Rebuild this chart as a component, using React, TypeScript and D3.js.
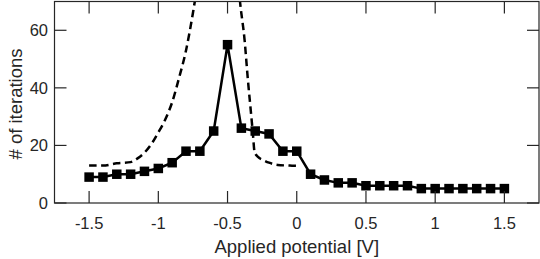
import React from 'react';
import * as d3 from 'd3';

// Applied potential (V) and iteration counts
const potentials = [
  -1.5, -1.4, -1.3, -1.2, -1.1, -1.0, -0.9, -0.8, -0.7, -0.6, -0.5, -0.4, -0.3, -0.2, -0.1, 0.0,
  0.1, 0.2, 0.3, 0.4, 0.5, 0.6, 0.7, 0.8, 0.9, 1.0, 1.1, 1.2, 1.3, 1.4, 1.5,
];
const iterations = [
  9, 9, 10, 10, 11, 12, 14, 18, 18, 25, 55, 26, 25, 24, 18, 18,
  10, 8, 7, 7, 6, 6, 6, 6, 5, 5, 5, 5, 5, 5, 5,
];

// dashed reference curve, two branches (it leaves the top of the axes)
const dashLeftX = [-1.5, -1.4, -1.3, -1.2, -1.15, -1.1, -1.05, -1.0, -0.95, -0.9, -0.85, -0.8, -0.75, -0.72];
const dashLeftY = [13, 13, 13.8, 14.2, 15.5, 17.5, 20.5, 24.5, 29, 35, 43.5, 53, 66, 75];
const dashRightX = [-0.42, -0.41, -0.377, -0.353, -0.33, -0.317, -0.305, -0.28, -0.245, -0.2, -0.137, -0.05, 0.0, 0.02];
const dashRightY = [75, 70, 56.7, 42.8, 31, 24.2, 17.8, 16, 15, 14, 13.2, 13, 12.9, 12.9];

const xTicks = [-1.5, -1, -0.5, 0, 0.5, 1, 1.5];
const yTicks = [0, 20, 40, 60];

export default function App() {
  const width = 540;
  const height = 259;
  const left = 54.5, right = 539, top = 1.5, bottom = 203;
  const axisColor = '#262626';
  const font = '"Liberation Sans", Arial, Helvetica, sans-serif';
  const tickLen = 12;

  const x = d3.scaleLinear().domain([-1.75, 1.75]).range([left, right]);
  const y = d3.scaleLinear().domain([0, 70]).range([bottom, top]);

  const pts = potentials.map((p, i) => [p, iterations[i]] as [number, number]);
  const line = d3.line<[number, number]>().x(d => x(d[0])).y(d => y(d[1]));
  const curve = d3.line<[number, number]>().x(d => x(d[0])).y(d => y(d[1])).curve(d3.curveMonotoneX);
  const leftBranch = dashLeftX.map((v, i) => [v, dashLeftY[i]] as [number, number]);
  const rightBranch = dashRightX.map((v, i) => [v, dashRightY[i]] as [number, number]);
  const sq = 9.5;

  return (
    <svg width={width} height={height} style={{ position: 'absolute', left: 0, top: 0, background: '#fff' }}>
      <defs>
        <clipPath id="plot">
          <rect x={left} y={top} width={right - left} height={bottom - top} />
        </clipPath>
      </defs>

      <g clipPath="url(#plot)">
        <path d={curve(leftBranch) || ''} fill="none" stroke="#000" strokeWidth={2.5} strokeDasharray="7.5,4.5" />
        <path d={curve(rightBranch) || ''} fill="none" stroke="#000" strokeWidth={2.5} strokeDasharray="7.5,4.5" />
      </g>

      <path d={line(pts) || ''} fill="none" stroke="#000" strokeWidth={2.5} />
      {pts.map((d, i) => (
        <rect key={i} x={x(d[0]) - sq / 2} y={y(d[1]) - sq / 2} width={sq} height={sq} fill="#000" />
      ))}

      {/* box */}
      <rect x={left} y={top} width={right - left} height={bottom - top} fill="none" stroke={axisColor} strokeWidth={1.2} />

      {/* x ticks, bottom and top */}
      {xTicks.map(t => (
        <g key={'x' + t}>
          <line x1={x(t)} x2={x(t)} y1={bottom} y2={bottom - tickLen} stroke={axisColor} strokeWidth={1.2} />
          <line x1={x(t)} x2={x(t)} y1={top} y2={top + tickLen} stroke={axisColor} strokeWidth={1.2} />
          <text x={x(t)} y={229} textAnchor="middle" fontFamily={font} fontSize={16.5} fill={axisColor}>
            {String(t)}
          </text>
        </g>
      ))}

      {/* y ticks, left and right */}
      {yTicks.map(t => (
        <g key={'y' + t}>
          <line x1={left} x2={left + tickLen} y1={y(t)} y2={y(t)} stroke={axisColor} strokeWidth={1.2} />
          <line x1={right} x2={right - tickLen} y1={y(t)} y2={y(t)} stroke={axisColor} strokeWidth={1.2} />
          <text x={48} y={y(t)} dy="0.36em" textAnchor="end" fontFamily={font} fontSize={16.5} fill={axisColor}>
            {t}
          </text>
        </g>
      ))}

      <text x={(left + right) / 2} y={253} textAnchor="middle" fontFamily={font} fontSize={18.5} fill={axisColor}>
        Applied potential [V]
      </text>
      <text transform={`translate(22,104) rotate(-90)`} textAnchor="middle" fontFamily={font} fontSize={18.5} fill={axisColor}>
        # of iterations
      </text>
    </svg>
  );
}
